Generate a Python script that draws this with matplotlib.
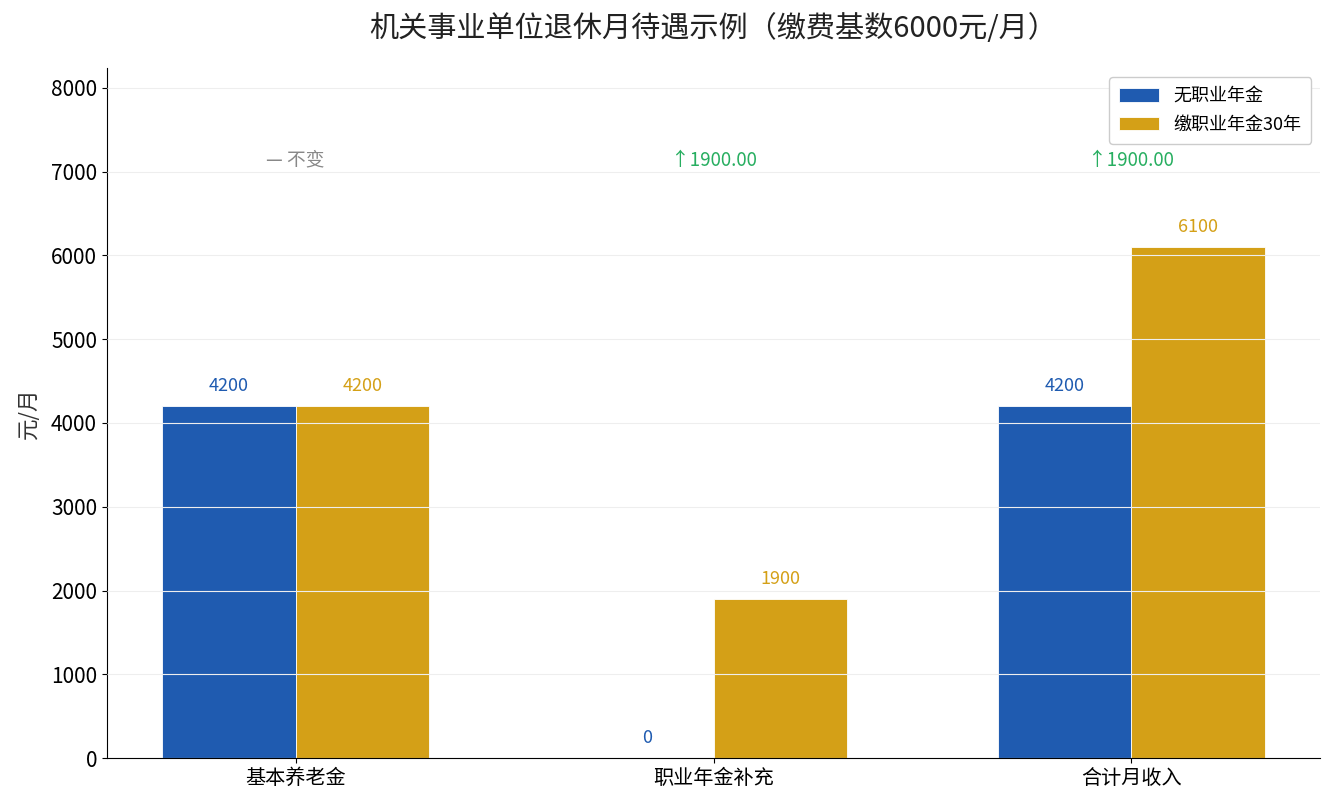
import matplotlib
matplotlib.use("Agg")
import matplotlib.pyplot as plt
import numpy as np

plt.rcParams['font.family'] = ['Noto Sans CJK SC', 'DejaVu Sans']

categories = ['基本养老金', '职业年金补充', '合计月收入']
series_names = ['无职业年金', '缴职业年金30年']
no_annuity = [4200, 0, 4200]
with_annuity = [4200, 1900, 6100]
diff_labels = ['— 不变', '↑1900.00', '↑1900.00']
diff_colors = ['#888888', '#27ae60', '#27ae60']

c_blue = '#1f5bb0'
c_gold = '#d4a017'

fig, ax = plt.subplots(figsize=(13.35, 8.1), dpi=100)
fig.subplots_adjust(left=0.080, right=0.989, top=0.916, bottom=0.064)

x = np.arange(len(categories))
w = 0.32
b1 = ax.bar(x - w/2, no_annuity, w, color=c_blue, edgecolor='white', linewidth=0.6, label=series_names[0], zorder=1)
b2 = ax.bar(x + w/2, with_annuity, w, color=c_gold, edgecolor='white', linewidth=0.6, label=series_names[1], zorder=1)

ymax = max(with_annuity) * 1.35
ax.set_ylim(0, ymax)

for bars, vals, col in [(b1, no_annuity, c_blue), (b2, with_annuity, c_gold)]:
    for r, v in zip(bars, vals):
        ax.annotate(f'{v}', (r.get_x() + r.get_width()/2, v), xytext=(0, 8),
                    textcoords='offset points', ha='center', va='bottom',
                    fontsize=13, color=col)

for xi, lab, col in zip(x, diff_labels, diff_colors):
    ax.text(xi, max(with_annuity) * 1.17, lab, ha='center', va='center', fontsize=13.5, color=col)

ax.set_xticks(x)
ax.set_xticklabels(categories, fontsize=14.5)
ax.tick_params(axis='y', labelsize=15)
ax.set_ylabel('元/月', fontsize=15.5, color='#333333', labelpad=8)
ax.set_title('机关事业单位退休月待遇示例（缴费基数6000元/月）', fontsize=21, color='#222222', pad=22)

ax.yaxis.grid(True, color='#eeeeee', linewidth=0.8, zorder=3)
ax.set_axisbelow(False)
ax.spines['top'].set_visible(False)
ax.spines['right'].set_visible(False)

ax.legend(loc='upper right', fontsize=13, frameon=True, framealpha=1, edgecolor='#cccccc',
          borderpad=0.55, labelspacing=0.6, handleheight=0.8, handlelength=2.2)

fig.savefig('out.png', dpi=100)
